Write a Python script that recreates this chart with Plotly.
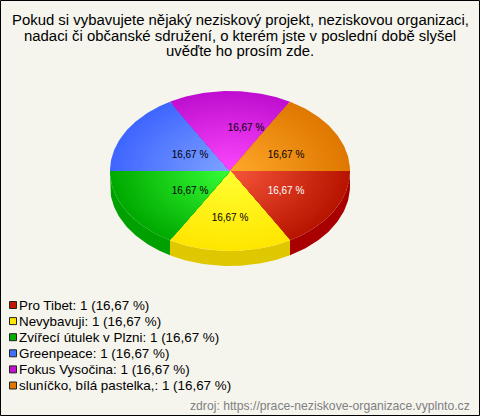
import math
import plotly.graph_objects as go

# ---- data ----
categories = ["Pro Tibet", "Nevybavuji", "Zvířecí útulek v Plzni", "Greenpeace",
              "Fokus Vysočina", "sluníčko, bílá pastelka,"]
values = [1, 1, 1, 1, 1, 1]
pct_labels = ["16,67 %"] * 6
title_lines = ["Pokud si vybavujete nějaký neziskový projekt, neziskovou organizaci,",
               "nadaci či občanské sdružení, o kterém jste v poslední době slyšel",
               "uvěďte ho prosím zde."]
source = "zdroj: https://prace-neziskove-organizace.vyplnto.cz"

# ---- styles ----
rim_colors = ["#b81500", "#ffe600", "#00aa00", "#3f66ff", "#c00fd0", "#e07800"]
hub_colors = ["#f8563c", "#ffff33", "#38ff38", "#80a4ff", "#ff48ff", "#ffa92c"]
side_colors = ["#a80000", "#e0c800", "#00a000", "#3050d0", "#9000a0", "#b06000"]
legend_colors = ["#c01800", "#ffe600", "#00b000", "#4070ff", "#c010d0", "#e07800"]
text_colors = ["white", "black", "black", "black", "black", "black"]
label_xy = [(286, 191), (230, 218), (190, 191), (190, 155), (246, 128), (286, 155)]

BG = "#f5f5ee"
CX, CY, RX, RY, DEPTH = 230, 171, 120, 80, 15
RINGS = 30
ARC_PTS = 60


def mix(a, b, t):
    ca = [int(a[i:i + 2], 16) for i in (1, 3, 5)]
    cb = [int(b[i:i + 2], 16) for i in (1, 3, 5)]
    return "rgb(%d,%d,%d)" % tuple(round(x + (y - x) * t) for x, y in zip(ca, cb))


total = sum(values)
bounds = [0.0]
for v in values:
    bounds.append(bounds[-1] + v / total * 2 * math.pi)

fig = go.Figure()

for i in range(len(values)):
    a0, a1 = bounds[i], min(bounds[i + 1], math.pi)
    if a0 >= math.pi:
        continue
    ts = [a0 + (a1 - a0) * k / ARC_PTS for k in range(ARC_PTS + 1)]
    xs = [CX + RX * math.cos(t) for t in ts]
    top = [CY + RY * math.sin(t) for t in ts]
    bot = [y + DEPTH for y in top]
    fig.add_trace(go.Scatter(x=xs + xs[::-1], y=top + bot[::-1], fill="toself",
                             fillcolor=side_colors[i], mode="lines", line_width=0,
                             hoverinfo="skip", showlegend=False))

for i in range(len(values)):
    a0, a1 = bounds[i], bounds[i + 1]
    for r in range(RINGS, 0, -1):
        f = r / RINGS
        ts = [a0 + (a1 - a0) * k / ARC_PTS for k in range(ARC_PTS + 1)]
        xs = [CX] + [CX + f * RX * math.cos(t) for t in ts] + [CX]
        ys = [CY] + [CY + f * RY * math.sin(t) for t in ts] + [CY]
        fig.add_trace(go.Scatter(x=xs, y=ys, fill="toself",
                                 fillcolor=mix(hub_colors[i], rim_colors[i], f),
                                 mode="lines", line_width=0,
                                 hoverinfo="skip", showlegend=False))

fig.add_trace(go.Scatter(x=[p[0] for p in label_xy], y=[p[1] for p in label_xy],
                         mode="text", text=pct_labels,
                         textfont=dict(family="Liberation Sans", size=10, color=text_colors),
                         hoverinfo="skip", showlegend=False))

LEG_X, LEG_Y, LEG_DY = 13, 305, 16.1
leg_y = [LEG_Y + LEG_DY * i for i in range(len(categories))]
fig.add_trace(go.Scatter(x=[LEG_X] * len(categories), y=leg_y, mode="markers",
                         marker=dict(symbol="square", size=7, color=legend_colors,
                                     line=dict(color="#222222", width=1)),
                         hoverinfo="skip", showlegend=False))
fig.add_trace(go.Scatter(x=[LEG_X + 6] * len(categories), y=[y + 1.5 for y in leg_y], mode="text",
                         text=["%s: %d (16,67 %%)" % (c, v) for c, v in zip(categories, values)],
                         textposition="middle right",
                         textfont=dict(family="Liberation Sans", size=13.4, color="#000000"),
                         hoverinfo="skip", showlegend=False))

ann = [dict(x=240, y=20 + 15.5 * i, text=t, showarrow=False, xref="x", yref="y",
            font=dict(family="Liberation Sans", size=14.9, color="#000000"))
       for i, t in enumerate(title_lines)]
ann.append(dict(x=472, y=406, text=source, showarrow=False, xref="x", yref="y", xanchor="right",
                font=dict(family="Liberation Sans", size=12.2, color="#808080")))

fig.update_layout(
    width=480, height=416, autosize=False,
    margin=dict(l=0, r=0, t=0, b=0), paper_bgcolor=BG, plot_bgcolor=BG,
    xaxis=dict(range=[0, 480], visible=False, fixedrange=True),
    yaxis=dict(range=[416, 0], visible=False, fixedrange=True),
    annotations=ann,
    shapes=[dict(type="rect", xref="x", yref="y", x0=0.5, y0=0.5, x1=479.5, y1=415.5,
                 line=dict(color="black", width=1), fillcolor="rgba(0,0,0,0)")],
)
fig.write_html("out.html", config=dict(displayModeBar=False),
               post_script="document.body.style.margin='0';document.body.style.overflow='hidden';")
